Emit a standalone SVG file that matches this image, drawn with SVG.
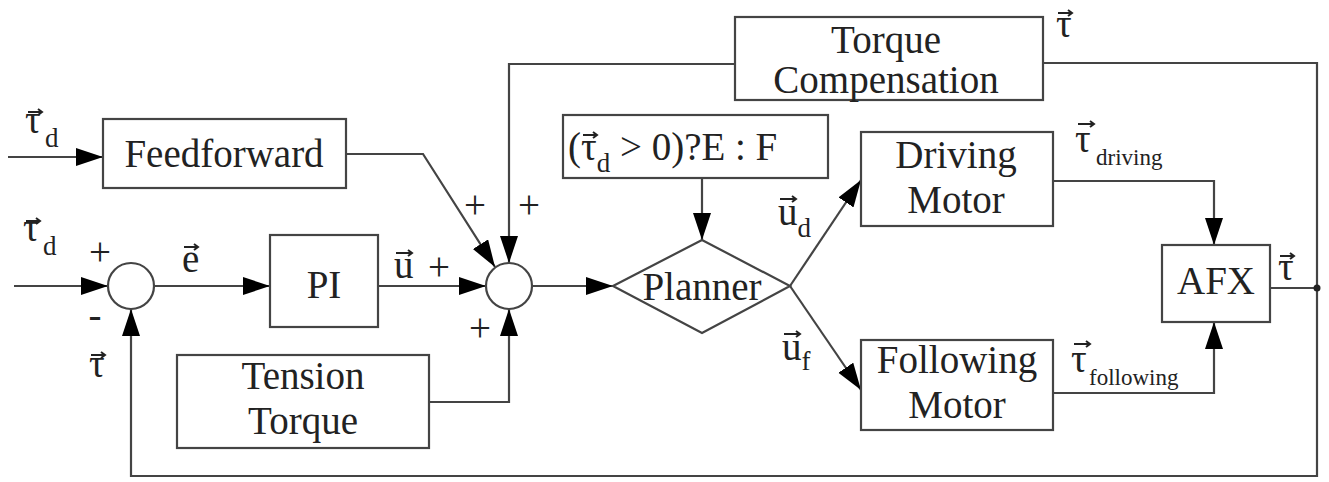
<svg xmlns="http://www.w3.org/2000/svg" width="1329" height="482" viewBox="0 0 1329 482" font-family="'Liberation Serif', 'Times New Roman', serif">
<defs>
<marker id="arr" markerUnits="userSpaceOnUse" markerWidth="30" markerHeight="20" refX="27" refY="9" orient="auto">
<path d="M0,0 L27,9 L0,18 z" fill="#000"/>
</marker>
<style>
.box{fill:#fff;stroke:#444;stroke-width:2.2}
.ln{fill:none;stroke:#444;stroke-width:2.2}
.ar{fill:none;stroke:#444;stroke-width:2.2;marker-end:url(#arr)}
.vb{fill:none;stroke:#222;stroke-width:2}
text{font-family:"Liberation Serif","Times New Roman",serif;fill:#222;font-size:39px}
.c{text-anchor:middle}
.s{font-size:27px}
.sm{font-size:23px}
</style>
</defs>
<rect width="1329" height="482" fill="#fff"/>
<g id="connectors">
<path class="ar" d="M8,157 H103"/>
<path class="ar" d="M346,154 H423 L495,267"/>
<path class="ar" d="M735,64 H509 V263"/>
<path class="ar" d="M1043,63 H1317 V476 H131 V309"/>
<path class="ar" d="M14,286 H108"/>
<path class="ar" d="M154,286 H270"/>
<path class="ar" d="M378,286 H486"/>
<path class="ar" d="M429,402 H509 V309"/>
<path class="ar" d="M532,286 H613"/>
<path class="ar" d="M702,178 V240"/>
<path class="ar" d="M790,286 L861,180"/>
<path class="ar" d="M790,286 L861,390"/>
<path class="ar" d="M1053,181 H1214 V245"/>
<path class="ar" d="M1053,393 H1214 V322"/>
<path class="ln" d="M1270,288 H1317"/>
<circle cx="1317" cy="288" r="3.5" fill="#222"/>
</g>
<g id="torque-compensation">
<rect class="box" x="735" y="17" width="308" height="83"/>
<text class="c" x="886" y="53">Torque</text>
<text class="c" x="886" y="93">Compensation</text>
<text x="1056" y="37">τ</text>
<path class="vb" d="M1058,13 H1072 M1068,10 L1072,13 L1068,16"/>
</g>
<g id="input-td-1">
<text x="25" y="133">τ<tspan class="s" x="45" y="147">d</tspan></text>
<path class="vb" d="M28,112 H42 M38,109 L42,112 L38,115"/>
</g>
<g id="feedforward">
<rect class="box" x="103" y="119" width="243" height="69"/>
<text class="c" x="224" y="167">Feedforward</text>
</g>
<g id="input-td-2">
<text x="23" y="241">τ<tspan class="s" x="43" y="255">d</tspan></text>
<path class="vb" d="M26,221 H40 M36,218 L40,221 L36,224"/>
</g>
<g id="sum1">
<circle class="box" cx="131" cy="286" r="23"/>
<text class="c" x="100" y="265">+</text>
<text class="c" x="95" y="328">-</text>
<text x="89" y="377">τ</text>
<path class="vb" d="M91,355 H105 M101,352 L105,355 L101,358"/>
</g>
<g id="label-e">
<text x="182" y="272">e</text>
<path class="vb" d="M184,247 H198 M194,244 L198,247 L194,250"/>
</g>
<g id="pi">
<rect class="box" x="270" y="235" width="108" height="92"/>
<text class="c" x="324" y="298">PI</text>
</g>
<g id="label-u">
<text x="394" y="278">u</text>
<path class="vb" d="M396,253 H412 M408,250 L412,253 L408,256"/>
<text class="c" x="439" y="280">+</text>
</g>
<g id="sum2">
<circle class="box" cx="509" cy="286" r="23"/>
<text class="c" x="475" y="218">+</text>
<text class="c" x="529" y="218">+</text>
<text class="c" x="480" y="341">+</text>
</g>
<g id="tension-torque">
<rect class="box" x="177" y="355" width="252" height="93"/>
<text class="c" x="303" y="389">Tension</text>
<text class="c" x="303" y="434">Torque</text>
</g>
<g id="condition">
<rect class="box" x="563" y="115" width="265" height="63"/>
<text x="568" y="160">(τ<tspan class="s" dy="12">d</tspan><tspan dy="-12"> &gt; 0)?E : F</tspan></text>
<path class="vb" d="M583,135 H597 M593,132 L597,135 L593,138"/>
</g>
<g id="planner">
<polygon class="box" points="613,286 702,240 790,286 702,333"/>
<text class="c" x="702" y="300">Planner</text>
</g>
<g id="label-ud">
<text x="778" y="225">u<tspan class="s" dy="12">d</tspan></text>
<path class="vb" d="M780,199 H796 M792,196 L796,199 L792,202"/>
</g>
<g id="label-uf">
<text x="782" y="360">u<tspan class="s" dy="10">f</tspan></text>
<path class="vb" d="M784,334 H800 M796,331 L800,334 L796,337"/>
</g>
<g id="driving-motor">
<rect class="box" x="861" y="132" width="192" height="94"/>
<text class="c" x="956" y="168">Driving</text>
<text class="c" x="956" y="213">Motor</text>
</g>
<g id="following-motor">
<rect class="box" x="861" y="340" width="192" height="90"/>
<text class="c" x="957" y="373">Following</text>
<text class="c" x="957" y="418">Motor</text>
</g>
<g id="label-tdriving">
<text x="1075" y="152">τ<tspan class="sm" x="1096" y="165">driving</tspan></text>
<path class="vb" d="M1078,124 H1094 M1090,121 L1094,124 L1090,127"/>
</g>
<g id="label-tfollowing">
<text x="1071" y="372">τ<tspan class="sm" x="1089" y="385">following</tspan></text>
<path class="vb" d="M1074,344 H1090 M1086,341 L1090,344 L1086,347"/>
</g>
<g id="afx">
<rect class="box" x="1162" y="245" width="108" height="77"/>
<text class="c" x="1216" y="294">AFX</text>
<text x="1278" y="280">τ</text>
<path class="vb" d="M1280,256 H1294 M1290,253 L1294,256 L1290,259"/>
</g>
</svg>
